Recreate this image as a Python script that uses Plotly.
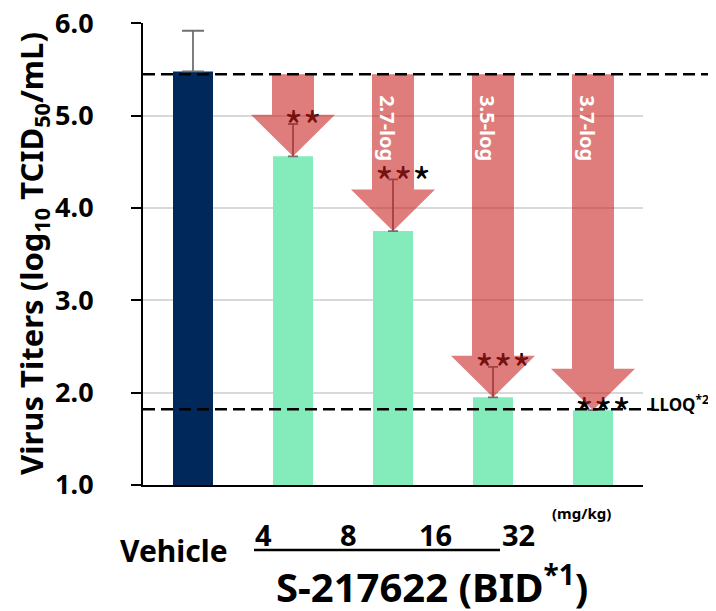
import plotly.graph_objects as go

# ---- data ----
categories = ["Vehicle", "4", "8", "16", "32"]
titers = [5.48, 4.56, 3.75, 1.95, 1.81]
err_upper = [0.44, 0.35, 0.56, 0.33, 0.0]
significance = ["", "**", "***", "***", "***"]
reductions = ["", "", "2.7-log", "3.5-log", "3.7-log"]
vehicle_ref = 5.45
lloq = 1.82
y_ticks = [1.0, 2.0, 3.0, 4.0, 5.0, 6.0]
dose_labels = ["4", "8", "16", "32"]

FONT = "Noto Sans"
NAVY = "#00285A"
MINT = "#84EBBB"
ARROW = "rgba(200,30,30,0.58)"

xs = list(range(len(categories)))

fig = go.Figure()
fig.add_trace(go.Bar(
    x=xs[:1], y=titers[:1], width=0.4, marker=dict(color=NAVY, line=dict(width=0)),
    error_y=dict(type="data", symmetric=False, array=err_upper[:1], arrayminus=[0],
                 color="#707070", thickness=1.8, width=11),
    showlegend=False))
fig.add_trace(go.Bar(
    x=xs[1:], y=titers[1:], width=0.4, marker=dict(color=MINT, line=dict(width=0)),
    error_y=dict(type="data", symmetric=False, array=err_upper[1:], arrayminus=[0] * 4,
                 color="#707070", thickness=1.8, width=5),
    showlegend=False))

# significance asterisks (under the arrows)
sig_x = [x + 0.1 for x in xs[1:]]
sig_y = [t + e - 0.09 for t, e in zip(titers[1:], err_upper[1:])]
fig.add_trace(go.Scatter(
    x=sig_x, y=sig_y, mode="text", text=significance[1:], textposition="middle center",
    textfont=dict(family="Noto Sans CJK JP", size=40, color="black"),
    showlegend=False, hoverinfo="skip", cliponaxis=False))

shapes = []
# arrows from vehicle reference to each treated bar
shaft_hw, head_hw, head_h = 0.21, 0.42, 0.45
for x, t in zip(xs[1:], titers[1:]):
    hb = t + head_h
    path = (f"M {x - shaft_hw},{vehicle_ref} L {x + shaft_hw},{vehicle_ref} "
            f"L {x + shaft_hw},{hb} L {x + head_hw},{hb} L {x},{t} "
            f"L {x - head_hw},{hb} L {x - shaft_hw},{hb} Z")
    shapes.append(dict(type="path", path=path, xref="x", yref="y",
                       fillcolor=ARROW, line=dict(width=0), layer="above"))

# dashed reference lines
shapes.append(dict(type="line", xref="paper", yref="y", x0=0, x1=1.15,
                   y0=vehicle_ref, y1=vehicle_ref,
                   line=dict(color="black", width=2.5, dash="12px,6px"), layer="above"))
shapes.append(dict(type="line", xref="paper", yref="y", x0=0, x1=1.02,
                   y0=lloq, y1=lloq,
                   line=dict(color="black", width=2.5, dash="12px,6px"), layer="above"))
# underline for dose group
shapes.append(dict(type="line", xref="paper", yref="paper", x0=0.222, x1=0.714,
                   y0=-0.1407, y1=-0.1407, line=dict(color="black", width=2.5)))

annotations = []
for x, r in zip(xs, reductions):
    if r:
        annotations.append(dict(x=x - 0.05, y=vehicle_ref, xref="x", yref="y", text=r,
                                textangle=90, showarrow=False, yanchor="top", yshift=-19,
                                font=dict(family=FONT, size=20, color="white", weight="bold")))

annotations.append(dict(x=1.01, y=lloq, xref="paper", yref="y", text="LLOQ<sup>*2</sup>",
                        showarrow=False, xanchor="left", yanchor="middle", yshift=6,
                        font=dict(family=FONT, size=17, color="black", weight="bold")))

annotations.append(dict(x=-0.22, y=0.5, xref="paper", yref="paper",
                        text="Virus Titers (log<sub>10</sub> TCID<sub>50</sub>/mL)",
                        textangle=-90, showarrow=False, xanchor="center", yanchor="middle",
                        font=dict(family=FONT, size=31, color="black", weight="bold")))

annotations.append(dict(x=0.062, y=-0.1407, xref="paper", yref="paper", text="Vehicle",
                        showarrow=False, xanchor="center", yanchor="middle",
                        font=dict(family=FONT, size=30, color="black", weight="bold")))
for px, lab in zip([0.24, 0.41, 0.584, 0.75], dose_labels):
    annotations.append(dict(x=px, y=-0.108, xref="paper", yref="paper", text=lab,
                            showarrow=False, xanchor="center", yanchor="middle",
                            font=dict(family=FONT, size=29, color="black", weight="bold")))
annotations.append(dict(x=0.876, y=-0.0606, xref="paper", yref="paper", text="(mg/kg)",
                        showarrow=False, xanchor="center", yanchor="middle",
                        font=dict(family=FONT, size=15, color="black", weight="bold")))
annotations.append(dict(x=0.578, y=-0.215, xref="paper", yref="paper",
                        text="S-217622 (BID<sup>*1</sup>)",
                        showarrow=False, xanchor="center", yanchor="middle",
                        font=dict(family=FONT, size=40, color="black", weight="bold")))

fig.update_layout(
    width=708, height=603,
    margin=dict(l=135, r=73, t=15, b=126, autoexpand=False),
    plot_bgcolor="white", paper_bgcolor="white",
    shapes=shapes, annotations=annotations,
    bargap=0.6,
    xaxis=dict(range=[-0.5, 4.5], showticklabels=False, ticks="", showgrid=False,
               zeroline=False, showline=True, linecolor="black", linewidth=2,
               automargin=False),
    yaxis=dict(range=[1, 6.004], tickvals=y_ticks, tickformat=".1f", showgrid=True,
               gridcolor="#d9d9d9", gridwidth=1.5, zeroline=False,
               showline=True, linecolor="black", linewidth=2,
               ticks="outside", ticklen=10, tickwidth=1.5, tickcolor="black",
               ticklabelstandoff=32, ticklabeloverflow="allow", automargin=False,
               tickfont=dict(family=FONT, size=27, color="black", weight="bold")),
)

fig.write_html("out.html")
